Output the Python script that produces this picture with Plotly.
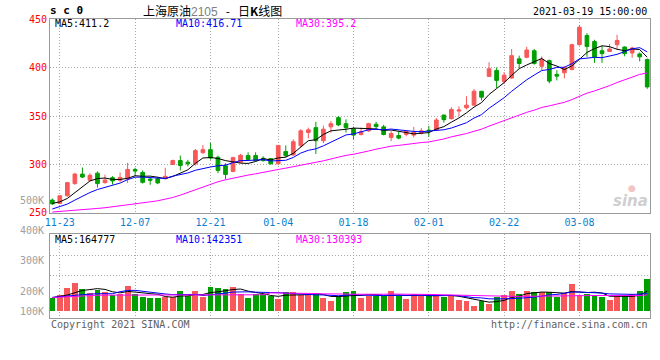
import plotly.graph_objects as go
import pandas as pd

# ---------------- data ----------------
tick_index = [1, 11, 21, 30, 40, 50, 60, 70]
tick_labels = ["11-23", "12-07", "12-21", "01-04", "01-18", "02-01", "02-22", "03-08"]

open_ = [263.3, 259.9, 267.7, 280.3, 290.1, 283.7, 291.1, 281.3, 286.4, 283.7,
         285.0, 294.9, 291.8, 285.0, 285.4, 285.4, 300.0, 304.1, 302.4, 300.7,
         312.2, 315.3, 307.5, 298.7, 292.9, 302.4, 309.2, 309.2, 306.4, 306.1,
         300.7, 313.3, 309.9, 319.4, 333.0, 338.0, 324.5, 338.8, 348.3, 342.1,
         337.0, 330.9, 334.7, 341.5, 338.8, 327.9, 329.9, 331.0, 330.3, 332.3,
         335.4, 335.4, 351.0, 347.2, 355.1, 358.5, 361.2, 375.5, 390.8, 397.0,
         385.7, 389.1, 408.9, 410.5, 417.3, 401.3, 407.1, 392.9, 394.6, 398.0,
         423.5, 433.0, 426.8, 417.3, 416.6, 423.5, 421.1, 415.0, 414.0, 408.2]
high = [265.0, 268.5, 282.0, 291.5, 296.9, 291.0, 292.9, 289.5, 288.0, 291.8,
        301.7, 296.6, 293.9, 287.0, 287.3, 296.6, 305.0, 309.2, 304.8, 316.0,
        320.0, 322.4, 309.2, 301.3, 308.0, 311.0, 312.6, 312.6, 308.5, 306.5,
        319.7, 319.7, 326.0, 336.4, 338.0, 343.9, 340.0, 344.9, 350.0, 346.6,
        339.0, 338.0, 343.0, 344.0, 341.0, 334.5, 334.5, 335.5, 338.8, 337.5,
        339.8, 348.0, 351.0, 359.0, 359.9, 370.4, 377.9, 375.5, 405.4, 400.0,
        395.2, 419.1, 412.2, 421.4, 419.0, 411.5, 408.2, 397.2, 401.3, 424.5,
        443.9, 435.4, 428.6, 422.4, 424.2, 433.7, 421.8, 421.5, 415.6, 409.3]
low = [258.2, 259.5, 267.0, 279.0, 286.0, 283.5, 276.2, 280.3, 279.3, 282.0,
       281.0, 288.0, 280.3, 279.0, 279.7, 284.4, 299.5, 293.9, 298.0, 299.0,
       311.0, 305.0, 291.1, 284.7, 292.0, 301.4, 304.1, 303.4, 302.9, 300.0,
       300.0, 307.5, 309.0, 317.7, 327.0, 310.9, 322.0, 333.0, 339.5, 333.0,
       326.0, 330.0, 333.7, 336.0, 330.0, 324.0, 326.0, 329.0, 327.9, 331.0,
       328.6, 335.0, 343.2, 346.5, 350.0, 356.8, 360.9, 366.0, 390.8, 378.9,
       383.0, 388.5, 399.3, 409.5, 403.0, 397.2, 383.7, 386.7, 388.8, 397.0,
       422.7, 411.0, 404.8, 404.8, 416.0, 418.4, 411.5, 410.0, 406.4, 378.0]
close = [259.5, 267.7, 281.3, 290.1, 287.0, 288.8, 280.3, 284.0, 283.0, 286.7,
         294.9, 293.2, 281.6, 283.7, 281.0, 287.8, 304.1, 299.0, 300.7, 314.3,
         315.3, 306.8, 293.9, 289.8, 307.1, 309.5, 305.1, 304.1, 304.1, 300.7,
         319.7, 309.2, 323.5, 334.7, 335.7, 324.5, 336.4, 342.1, 340.8, 338.0,
         330.3, 333.7, 342.1, 339.1, 330.9, 331.9, 327.2, 334.0, 333.7, 334.7,
         334.7, 345.9, 346.2, 356.8, 356.1, 361.2, 375.5, 369.4, 398.7, 386.7,
         392.1, 412.2, 404.1, 418.0, 404.1, 408.2, 386.0, 391.1, 399.7, 423.5,
         441.5, 421.7, 410.9, 414.3, 419.1, 427.9, 414.3, 420.1, 411.0, 380.0]
volume = [109000, 131000, 192000, 231000, 181000, 148000, 170000, 159000, 131000, 136000,
          209000, 142000, 117000, 109000, 109000, 114000, 114000, 164000, 119000, 164000,
          114000, 198000, 192000, 181000, 198000, 136000, 109000, 136000, 136000, 119000,
          100000, 156000, 156000, 131000, 128000, 148000, 106000, 84000, 123000, 156000,
          164000, 109000, 123000, 123000, 123000, 164000, 123000, 100000, 139000, 123000,
          139000, 123000, 117000, 131000, 92000, 81000, 42000, 84000, 58000, 114000,
          131000, 164000, 139000, 164000, 156000, 156000, 156000, 117000, 148000, 223000,
          131000, 139000, 131000, 114000, 89000, 123000, 128000, 139000, 164000, 265000]

# moving-average values before a full window is available
ma5_lead = [259.9, 261.5, 265.0, 271.1]
ma10_lead = [254.1, 256.4, 259.2, 263.3, 267.3, 271.1, 274.2, 276.2, 278.6]
ma30_lead = [251.0, 251.5, 252.2, 252.8, 253.5, 254.1, 254.7, 255.4, 256.3, 257.3,
             258.4, 259.5, 260.5, 261.5, 262.6, 264.0, 266.0, 268.4, 271.2, 274.2,
             277.2, 280.0, 282.2, 284.2, 286.0, 287.6, 289.1, 290.4, 291.7]
vma5_lead = [109000, 120000, 131000, 150000]
vma10_lead = [111000, 115000, 120000, 128000, 134000, 139000, 142000, 142000, 142000]
vma30_lead = [110000, 114000, 118000, 122000, 126000, 128000, 129000, 130000, 130000, 131000,
              131000, 131000, 131000, 131000, 131000, 131000, 132000, 132000, 132000, 132000,
              133000, 133000, 133000, 133000, 133000, 133000, 133000, 133000, 133000]

price_ticks = [250, 300, 350, 400, 450]


def moving_average(values, n, lead):
    s = pd.Series(values, dtype=float).rolling(n).mean()
    s.iloc[:n - 1] = lead
    return s.tolist()


x = list(range(len(close)))
ma5 = moving_average(close, 5, ma5_lead)
ma10 = moving_average(close, 10, ma10_lead)
ma30 = moving_average(close, 30, ma30_lead)
vma5 = moving_average(volume, 5, vma5_lead)
vma10 = moving_average(volume, 10, vma10_lead)
vma30 = moving_average(volume, 30, vma30_lead)

RED = "#f85858"
GREEN = "#009f00"
GRID = "#a8a8a8"
BORDER = "#9a9a9a"
MONO = "DejaVu Sans Mono"

vol_colors = [RED if c > o else GREEN for o, c in zip(open_, close)]

fig = go.Figure()
fig.add_trace(go.Candlestick(
    x=x, open=open_, high=high, low=low, close=close,
    increasing=dict(line=dict(color=RED, width=1), fillcolor=RED),
    decreasing=dict(line=dict(color=GREEN, width=1), fillcolor=GREEN),
    whiskerwidth=0, xaxis="x", yaxis="y", hoverinfo="skip"))
for ys, col in [(ma5, "#000000"), (ma10, "#0000ff"), (ma30, "#ff00ff")]:
    fig.add_trace(go.Scatter(x=x, y=ys, mode="lines", line=dict(color=col, width=1),
                             xaxis="x", yaxis="y", hoverinfo="skip"))

fig.add_trace(go.Bar(x=x, y=volume, marker=dict(color=vol_colors, line=dict(width=0)),
                     width=0.78, xaxis="x2", yaxis="y2", hoverinfo="skip"))
for ys, col in [(vma5, "#000000"), (vma10, "#0000ff"), (vma30, "#ff00ff")]:
    fig.add_trace(go.Scatter(x=x, y=ys, mode="lines", line=dict(color=col, width=1),
                             xaxis="x2", yaxis="y2", hoverinfo="skip"))

axis_common = dict(showline=True, mirror=True, linecolor=BORDER, linewidth=1,
                   gridcolor=GRID, griddash="1px,2px", gridwidth=1,
                   zeroline=False, ticks="", fixedrange=True)

fig.update_layout(
    width=660, height=360,
    margin=dict(l=50, r=10, t=19, b=42),
    paper_bgcolor="white", plot_bgcolor="white",
    showlegend=False, bargap=0,
    font=dict(family=MONO, size=10, color="#000"),
    xaxis=dict(domain=[0, 1], range=[-0.305, 79.37], anchor="y",
               tickvals=tick_index, ticktext=tick_labels,
               tickfont=dict(family=MONO, size=10, color="#0a7fd0"),
               showgrid=True, rangeslider=dict(visible=False), **axis_common),
    xaxis2=dict(domain=[0, 1], matches="x", anchor="y2",
                tickvals=tick_index, showticklabels=False,
                showgrid=True, **axis_common),
    yaxis=dict(domain=[0.3512, 1], range=[250, 450], anchor="x",
               tickvals=price_ticks,
               tickfont=dict(family=MONO, size=10, color="#ff0000"),
               showgrid=True, **axis_common),
    yaxis2=dict(domain=[0, 0.2809], range=[-61000, 640400], anchor="x2",
                tickvals=[292000, 459000], showticklabels=False,
                showgrid=True, **axis_common),
)


def px_x(v):
    return (v - 50) / 600.0


def px_y(v):
    return (318 - v) / 299.0


ann = []


def text(s, xp, yp, color="#000", size=10, xanchor="left", family=MONO):
    ann.append(dict(text=s, x=px_x(xp), y=px_y(yp), xref="paper", yref="paper",
                    xanchor=xanchor, yanchor="middle", showarrow=False,
                    font=dict(family=family, size=size, color=color)))


NB = "\u00a0"
text("<b>s c 0</b>", 48, 10, size=11)
text("上海原油<span style='color:#808080;font-family:Liberation Sans'>2105</span>"
     + NB * 3 + "-" + NB * 3 + "日<b>K</b>线图", 141, 10,
     size=12, family="Noto Sans CJK SC")
text("2021-03-19 15:00:00", 649, 11, xanchor="right")
text("MA5:411.2", 53, 24)
text("MA10:416.71", 174, 24, color="#0000ff")
text("MA30:395.2", 294, 24, color="#ff00ff")
text("MA5:164777", 53, 239)
text("MA10:142351", 174, 239, color="#0000ff")
text("MA30:130393", 294, 239, color="#ff00ff")
for lab, yy in [("500K", 200.7), ("400K", 230), ("300K", 260.7), ("200K", 291), ("100K", 311.3)]:
    text(lab, 46, yy, color="#a0a0a0", xanchor="right")
text("Copyright 2021 SINA.COM", 49, 324, color="#606060")
text("http://finance.sina.com.cn", 650, 324, color="#606060", xanchor="right")
text("<i><b>sina</b></i>", 630, 201, color="#cfcfcf", size=15, xanchor="center",
     family="DejaVu Sans")
text("●", 632, 188, color="#f4c4c4", size=9, xanchor="center", family="DejaVu Sans")

fig.update_layout(annotations=ann)
fig.write_html("out.html",
               config={"displayModeBar": False, "staticPlot": True},
               post_script="document.body.style.margin='0';document.body.style.overflow='hidden';")
